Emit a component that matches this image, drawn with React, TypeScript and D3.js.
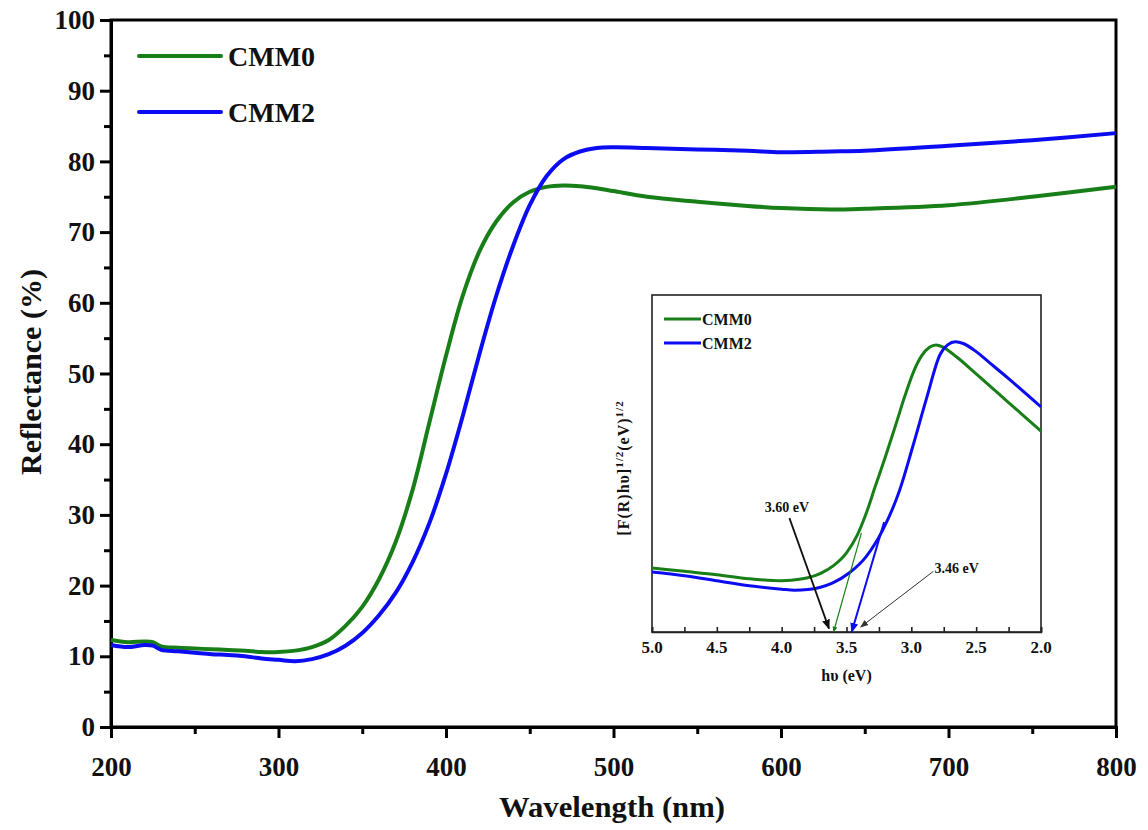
import React, { useRef, useEffect } from "react";
import * as d3 from "d3";

// main spectrum: wavelength (nm) vs reflectance (%)
const wavelengths = [200, 210, 220, 225, 230, 240, 250, 260, 270, 280, 290, 300, 310, 320, 330, 340, 350, 360, 370, 380, 390, 400, 410, 420, 430, 440, 450, 460, 470, 480, 490, 500, 520, 550, 580, 600, 630, 650, 700, 750, 800];
const cmm0 = [12.3, 12.0, 12.1, 12.0, 11.4, 11.2, 11.1, 11.0, 10.9, 10.8, 10.6, 10.6, 10.8, 11.3, 12.3, 14.3, 17.0, 20.9, 26.2, 33.5, 43.0, 52.5, 61.0, 67.3, 71.5, 74.2, 75.7, 76.4, 76.6, 76.5, 76.2, 75.8, 75.0, 74.3, 73.7, 73.4, 73.2, 73.3, 73.8, 75.0, 76.4];
const cmm2 = [11.6, 11.3, 11.6, 11.5, 10.9, 10.7, 10.5, 10.3, 10.2, 10.0, 9.7, 9.5, 9.3, 9.6, 10.3, 11.5, 13.3, 15.8, 19.0, 23.3, 28.8, 35.8, 44.0, 52.8, 61.0, 68.0, 73.8, 77.9, 80.3, 81.4, 81.9, 82.0, 81.9, 81.7, 81.5, 81.3, 81.4, 81.5, 82.2, 83.0, 84.0];
const xTicks = [200, 300, 400, 500, 600, 700, 800];
const yTicks = [0, 10, 20, 30, 40, 50, 60, 70, 80, 90, 100];

// inset: Tauc-type plot, hv (eV) vs [F(R)hv]^1/2 (arb. units)
const insetEv0 = [5.0, 4.75, 4.5, 4.25, 4.0, 3.85, 3.7, 3.6, 3.5, 3.42, 3.35, 3.28, 3.2, 3.12, 3.05, 2.98, 2.92, 2.86, 2.81, 2.75, 2.65, 2.5, 2.25, 2.0];
const insetCmm0 = [1.90, 1.80, 1.70, 1.58, 1.52, 1.57, 1.74, 1.97, 2.35, 2.85, 3.5, 4.3, 5.2, 6.15, 7.0, 7.75, 8.2, 8.45, 8.52, 8.44, 8.16, 7.66, 6.81, 5.96];
const insetEv2 = [5.0, 4.75, 4.5, 4.25, 4.0, 3.9, 3.8, 3.7, 3.61, 3.48, 3.35, 3.22, 3.09, 2.99, 2.88, 2.78, 2.72, 2.66, 2.6, 2.5, 2.4, 2.25, 2.0];
const insetCmm2 = [1.78, 1.67, 1.52, 1.37, 1.27, 1.24, 1.26, 1.33, 1.45, 1.75, 2.23, 3.03, 4.21, 5.49, 6.97, 8.22, 8.52, 8.61, 8.56, 8.32, 8.0, 7.52, 6.68];
const insetTicks = [5.0, 4.5, 4.0, 3.5, 3.0, 2.5, 2.0];
const gapCmm0 = 3.60;
const gapCmm2 = 3.46;

const GREEN = "#187f18";
const BLUE = "#0c0cf2";
const FONT = "'Liberation Serif', 'Times New Roman', serif";

export default function App() {
  const svgRef = useRef<SVGSVGElement>(null);

  useEffect(() => {
    const svg = d3.select(svgRef.current);
    svg.selectAll("*").remove();

    const W = 1148, H = 830;
    const margin = { top: 20, right: 32, bottom: 103, left: 111 };
    const x = d3.scaleLinear().domain([200, 800]).range([margin.left, W - margin.right]);
    const y = d3.scaleLinear().domain([0, 100]).range([H - margin.bottom, margin.top]);

    const defs = svg.append("defs");
    const mkArrow = (id: string, color: string, size: number) => {
      defs.append("marker")
        .attr("id", id)
        .attr("viewBox", "0 0 10 10")
        .attr("refX", 9).attr("refY", 5)
        .attr("markerWidth", size).attr("markerHeight", size)
        .attr("markerUnits", "userSpaceOnUse")
        .attr("orient", "auto")
        .append("path")
        .attr("d", "M0,1 L10,5 L0,9 Z")
        .attr("fill", color);
    };
    mkArrow("arBlack", "#111", 10);
    mkArrow("arBlue", BLUE, 10);
    mkArrow("arGreen", GREEN, 6);
    mkArrow("arGrey", "#333", 8);

    const g = svg.append("g");

    // frame
    g.append("rect")
      .attr("x", x(200)).attr("y", y(100))
      .attr("width", x(800) - x(200)).attr("height", y(0) - y(100))
      .attr("fill", "none").attr("stroke", "#000").attr("stroke-width", 3);

    // axes
    const styleAxis = (sel: any) => {
      sel.select(".domain").attr("stroke", "#000").attr("stroke-width", 3);
      sel.selectAll(".tick line").attr("stroke", "#000").attr("stroke-width", 3);
      sel.selectAll("text")
        .attr("fill", "#111")
        .style("font-family", FONT)
        .style("font-weight", "bold")
        .style("font-size", "27px");
    };

    g.append("g")
      .attr("transform", `translate(0,${y(0)})`)
      .call(d3.axisBottom(x).tickValues(d3.range(250, 800, 100)).tickSize(7).tickFormat(() => ""))
      .call(styleAxis);
    g.append("g")
      .attr("transform", `translate(0,${y(0)})`)
      .call(d3.axisBottom(x).tickValues(xTicks).tickSize(11).tickPadding(19).tickFormat(d3.format("d")))
      .call(styleAxis);

    g.append("g")
      .attr("transform", `translate(${x(200)},0)`)
      .call(d3.axisLeft(y).tickValues(d3.range(5, 100, 10)).tickSize(7).tickFormat(() => ""))
      .call(styleAxis);
    g.append("g")
      .attr("transform", `translate(${x(200)},0)`)
      .call(d3.axisLeft(y).tickValues(yTicks).tickSize(11).tickPadding(5).tickFormat(d3.format("d")))
      .call(styleAxis);

    // axis titles
    g.append("text")
      .attr("x", 612).attr("y", 817)
      .attr("text-anchor", "middle")
      .attr("textLength", 226).attr("lengthAdjust", "spacingAndGlyphs")
      .style("font-family", FONT).style("font-weight", "bold").style("font-size", "29px")
      .attr("fill", "#111")
      .text("Wavelength (nm)");
    g.append("text")
      .attr("transform", `translate(41,372) rotate(-90)`)
      .attr("text-anchor", "middle")
      .attr("textLength", 206).attr("lengthAdjust", "spacingAndGlyphs")
      .style("font-family", FONT).style("font-weight", "bold").style("font-size", "29px")
      .attr("fill", "#111")
      .text("Reflectance (%)");

    // curves
    const line = d3.line<[number, number]>()
      .x(d => x(d[0]))
      .y(d => y(d[1]))
      .curve(d3.curveCatmullRom.alpha(0.5));

    g.append("path")
      .datum(wavelengths.map((w, i) => [w, cmm0[i]] as [number, number]))
      .attr("d", line)
      .attr("fill", "none").attr("stroke", GREEN).attr("stroke-width", 4);
    g.append("path")
      .datum(wavelengths.map((w, i) => [w, cmm2[i]] as [number, number]))
      .attr("d", line)
      .attr("fill", "none").attr("stroke", BLUE).attr("stroke-width", 4);

    // legend
    const legend = [
      { name: "CMM0", color: GREEN, yy: 56 },
      { name: "CMM2", color: BLUE, yy: 112 },
    ];
    legend.forEach(l => {
      g.append("line")
        .attr("x1", 139).attr("x2", 221).attr("y1", l.yy).attr("y2", l.yy)
        .attr("stroke", l.color).attr("stroke-width", 4).attr("stroke-linecap", "round");
      g.append("text")
        .attr("x", 228).attr("y", l.yy + 10)
        .style("font-family", FONT).style("font-weight", "bold").style("font-size", "28px")
        .attr("fill", "#111")
        .text(l.name);
    });

    // ---------- inset ----------
    const ix = d3.scaleLinear().domain([5.0, 2.0]).range([652, 1041]);
    const iy = d3.scaleLinear().domain([0, 10]).range([632, 295]);
    const inset = svg.append("g");

    inset.append("rect")
      .attr("x", ix(5.0)).attr("y", iy(10))
      .attr("width", ix(2.0) - ix(5.0)).attr("height", iy(0) - iy(10))
      .attr("fill", "#fff").attr("stroke", "#222").attr("stroke-width", 1.6);

    const iAxis = inset.append("g")
      .attr("transform", `translate(0,${iy(0)})`)
      .call(d3.axisBottom(ix).tickValues(d3.range(5.0, 1.99, -0.25)).tickSize(-5).tickFormat(() => ""));
    iAxis.select(".domain").attr("stroke", "#222").attr("stroke-width", 1.6);
    iAxis.selectAll(".tick line").attr("stroke", "#222").attr("stroke-width", 1.6);

    inset.append("g")
      .selectAll("text")
      .data(insetTicks)
      .join("text")
      .attr("x", d => ix(d)).attr("y", iy(0) + 21)
      .attr("text-anchor", "middle")
      .style("font-family", FONT).style("font-weight", "bold").style("font-size", "17px")
      .attr("fill", "#111")
      .text(d => d3.format(".1f")(d));

    inset.append("text")
      .attr("x", ix(3.5)).attr("y", iy(0) + 49)
      .attr("text-anchor", "middle")
      .style("font-family", FONT).style("font-weight", "bold").style("font-size", "16px")
      .attr("fill", "#111")
      .text("h\u03c5 (eV)");

    const ylab = inset.append("text")
      .attr("transform", `translate(629,468) rotate(-90)`)
      .attr("text-anchor", "middle")
      .style("font-family", FONT).style("font-weight", "bold").style("font-size", "16px")
      .style("letter-spacing", "1px")
      .attr("fill", "#111");
    ylab.append("tspan").text("[F(R)h\u03c5]");
    ylab.append("tspan").attr("dy", -6).style("font-size", "11px").text("1/2");
    ylab.append("tspan").attr("dy", 6).text("(eV)");
    ylab.append("tspan").attr("dy", -6).style("font-size", "11px").text("1/2");

    const iline = d3.line<[number, number]>()
      .x(d => ix(d[0]))
      .y(d => iy(d[1]))
      .curve(d3.curveMonotoneX);

    inset.append("path")
      .datum(insetEv0.map((e, i) => [e, insetCmm0[i]] as [number, number]))
      .attr("d", iline)
      .attr("fill", "none").attr("stroke", GREEN).attr("stroke-width", 3);
    inset.append("path")
      .datum(insetEv2.map((e, i) => [e, insetCmm2[i]] as [number, number]))
      .attr("d", iline)
      .attr("fill", "none").attr("stroke", BLUE).attr("stroke-width", 3);

    // tangent extrapolations to the band gap
    inset.append("line")
      .attr("x1", ix(3.385)).attr("y1", iy(2.94))
      .attr("x2", ix(gapCmm0)).attr("y2", iy(0))
      .attr("stroke", GREEN).attr("stroke-width", 1.2)
      .attr("marker-end", "url(#arGreen)");
    inset.append("line")
      .attr("x1", ix(3.21)).attr("y1", iy(3.26))
      .attr("x2", ix(gapCmm2)).attr("y2", iy(0))
      .attr("stroke", BLUE).attr("stroke-width", 2)
      .attr("marker-end", "url(#arBlue)");

    // annotation arrows
    inset.append("line")
      .attr("x1", ix(3.94)).attr("y1", iy(3.38))
      .attr("x2", ix(3.635)).attr("y2", iy(0.1))
      .attr("stroke", "#111").attr("stroke-width", 1.8)
      .attr("marker-end", "url(#arBlack)");
    inset.append("line")
      .attr("x1", ix(2.83)).attr("y1", iy(1.8))
      .attr("x2", ix(3.39)).attr("y2", iy(0.15))
      .attr("stroke", "#333").attr("stroke-width", 1)
      .attr("marker-end", "url(#arGrey)");

    const notes = [
      { ev: 3.96, v: 3.57, label: `${gapCmm0.toFixed(2)} eV` },
      { ev: 2.65, v: 1.75, label: `${gapCmm2.toFixed(2)} eV` },
    ];
    inset.append("g")
      .selectAll("text")
      .data(notes)
      .join("text")
      .attr("x", d => ix(d.ev)).attr("y", d => iy(d.v))
      .attr("text-anchor", "middle")
      .style("font-family", FONT).style("font-weight", "bold").style("font-size", "14px")
      .attr("fill", "#111")
      .text(d => d.label);

    // inset legend
    const ileg = [
      { name: "CMM0", color: GREEN, yy: 319 },
      { name: "CMM2", color: BLUE, yy: 343 },
    ];
    ileg.forEach(l => {
      inset.append("line")
        .attr("x1", 664).attr("x2", 701).attr("y1", l.yy).attr("y2", l.yy)
        .attr("stroke", l.color).attr("stroke-width", 3);
      inset.append("text")
        .attr("x", 702).attr("y", l.yy + 6)
        .style("font-family", FONT).style("font-weight", "bold").style("font-size", "16px")
        .attr("fill", "#111")
        .text(l.name);
    });
  }, []);

  return (
    <svg
      ref={svgRef}
      width={1148}
      height={830}
      style={{ position: "absolute", left: 0, top: 0, background: "#fff" }}
    />
  );
}
